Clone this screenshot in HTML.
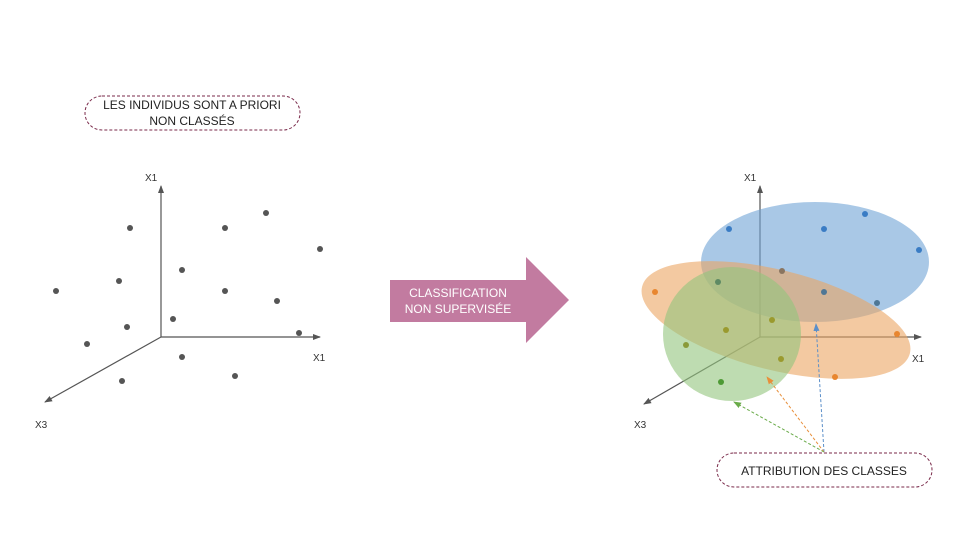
<!DOCTYPE html>
<html><head><meta charset="utf-8"><style>
body{margin:0;background:#fff;}
svg{display:block;font-family:"Liberation Sans","DejaVu Sans",sans-serif;}
</style></head><body>
<svg width="960" height="540" viewBox="0 0 960 540">
<defs>
<marker id="ah" markerWidth="8" markerHeight="8" refX="7" refY="4" orient="auto" markerUnits="userSpaceOnUse"><path d="M0,1 L8,4 L0,7 Z" fill="#555"/></marker>
<marker id="ab" markerWidth="8" markerHeight="8" refX="7" refY="4" orient="auto" markerUnits="userSpaceOnUse"><path d="M0,1 L8,4 L0,7 Z" fill="#5b8fc9"/></marker>
<marker id="ao" markerWidth="8" markerHeight="8" refX="7" refY="4" orient="auto" markerUnits="userSpaceOnUse"><path d="M0,1 L8,4 L0,7 Z" fill="#e88f3a"/></marker>
<marker id="ag" markerWidth="8" markerHeight="8" refX="7" refY="4" orient="auto" markerUnits="userSpaceOnUse"><path d="M0,1 L8,4 L0,7 Z" fill="#6aab4a"/></marker>
</defs>
<g>
<rect x="85" y="96" width="215" height="34" rx="17" fill="#fff" stroke="#7a2a4a" stroke-dasharray="3,2"/>
<text x="192" y="109" font-size="12" text-anchor="middle" fill="#222">LES INDIVIDUS SONT A PRIORI</text>
<text x="192" y="125" font-size="12" text-anchor="middle" fill="#222">NON CLASSÉS</text>
</g>
<g stroke="#555" stroke-width="1.2">
<line x1="161" y1="337" x2="161" y2="186" marker-end="url(#ah)"/>
<line x1="161" y1="337" x2="320" y2="337" marker-end="url(#ah)"/>
<line x1="161" y1="337" x2="45" y2="402" marker-end="url(#ah)"/>
</g>
<g font-size="10" fill="#333">
<text x="145" y="181">X1</text>
<text x="313" y="361">X1</text>
<text x="35" y="428">X3</text>
</g>
<g id="leftpts" fill="#555"></g>
<g>
<path d="M390,280 L526,280 L526,257 L569,300 L526,343 L526,322 L390,322 Z" fill="#c27ba0"/>
<text x="458" y="297" font-size="12" text-anchor="middle" fill="#fff">CLASSIFICATION</text>
<text x="458" y="313" font-size="12" text-anchor="middle" fill="#fff">NON SUPERVISÉE</text>
</g>
<g stroke="#555" stroke-width="1.2">
<line x1="760" y1="337" x2="760" y2="186" marker-end="url(#ah)"/>
<line x1="760" y1="337" x2="921" y2="337" marker-end="url(#ah)"/>
<line x1="760" y1="337" x2="644" y2="404" marker-end="url(#ah)"/>
</g>
<g font-size="10" fill="#333">
<text x="744" y="181">X1</text>
<text x="912" y="362">X1</text>
<text x="634" y="428">X3</text>
</g>
<ellipse cx="815" cy="262" rx="114" ry="60" fill="#6fa3d6" fill-opacity="0.6"/>
<ellipse cx="776" cy="320" rx="138" ry="50" transform="rotate(14 776 320)" fill="#eba563" fill-opacity="0.6"/>
<ellipse cx="732" cy="334" rx="69" ry="67" fill="#93c47d" fill-opacity="0.6"/>
<g id="rightpts"></g>
<g stroke-width="1" stroke-dasharray="3,2" fill="none">
<line x1="824" y1="452" x2="816" y2="324" stroke="#5b8fc9" marker-end="url(#ab)"/>
<line x1="824" y1="452" x2="767" y2="377" stroke="#e88f3a" marker-end="url(#ao)"/>
<line x1="824" y1="452" x2="734" y2="402" stroke="#6aab4a" marker-end="url(#ag)"/>
</g>
<g>
<rect x="717" y="453" width="215" height="34" rx="17" fill="#fff" stroke="#7a2a4a" stroke-dasharray="3,2"/>
<text x="824" y="475" font-size="12" text-anchor="middle" fill="#222">ATTRIBUTION DES CLASSES</text>
</g>
</svg>
<script>
const leftX=[130,225,266,320,182,119,56,225,277,173,127,299,87,182,235,122];
const leftY=[228,228,213,249,270,281,291,291,301,319,327,333,344,357,376,381];
const rightX=[729,824,865,919,824,877,782,718,655,897,835,772,726,686,781,721];
const rightY=[229,229,214,250,292,303,271,282,292,334,377,320,330,345,359,382];
const rightColor=["#3a7cc4","#3a7cc4","#3a7cc4","#3a7cc4","#4f7795","#4f7795","#8a7560","#5e8a64","#e8862f","#e8862f","#e8862f","#9a9a2e","#9a9a2e","#8a9a3a","#9a9a2e","#4e9a35"];
const ns="http://www.w3.org/2000/svg";
const lg=document.getElementById('leftpts');
for(let i=0;i<leftX.length;i++){const c=document.createElementNS(ns,'circle');c.setAttribute('cx',leftX[i]);c.setAttribute('cy',leftY[i]);c.setAttribute('r',3);


lg.appendChild(c);}
const rg=document.getElementById('rightpts');
for(let i=0;i<rightX.length;i++){const c=document.createElementNS(ns,'circle');c.setAttribute('cx',rightX[i]);c.setAttribute('cy',rightY[i]);c.setAttribute('r',3);c.setAttribute('fill',rightColor[i]);


rg.appendChild(c);}
</script>
</body></html>
